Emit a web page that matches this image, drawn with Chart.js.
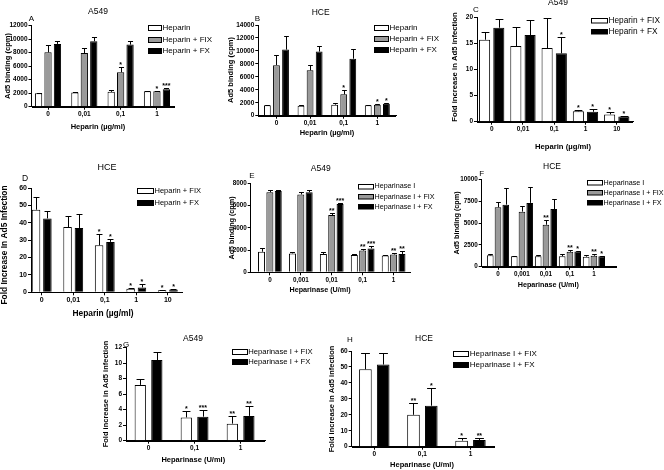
<!DOCTYPE html>
<html>
<head>
<meta charset="utf-8">
<script src="https://cdn.jsdelivr.net/npm/chart.js@4.4.0/dist/chart.umd.min.js"></script>
<style>
  body { margin: 0; background: #fff; }
  #wrap { position: relative; width: 664px; height: 470px; overflow: hidden; }
  #wrap canvas { position: absolute; left: 0; top: 0; }
</style>
</head>
<body>
<div id="wrap"></div>
<script>
// categories
const heparinDoses = ['0', '0,01', '0,1', '1'];
const heparinDoses5 = ['0', '0,01', '0,1', '1', '10'];
const hepIDoses = ['0', '0,001', '0,01', '0,1', '1'];
const hepIDoses3 = ['0', '0,1', '1'];

// A - A549, Ad5 binding (cpm)
const aHep = [2000, 2100, 2200, 2300];
const aHepErr = [2100, 2150, 2450, 2400];
const aFix = [8050, 7950, 5100, 2300];
const aFixErr = [9200, 8700, 5900, 2400];
const aFx = [9300, 9700, 9200, 2600];
const aFxErr = [9700, 10400, 9800, 2700];
const aFixStars = ['', '', '*', '*'];
const aFxStars = ['', '', '', '***'];

// B - HCE, Ad5 binding (cpm)
const bHep = [1600, 1550, 1700, 1600];
const bHepErr = [1650, 1600, 1900, 1700];
const bFix = [7800, 7000, 3300, 1700];
const bFixErr = [9300, 7900, 3900, 1800];
const bFx = [10200, 9900, 8800, 1850];
const bFxErr = [12300, 10800, 10300, 2000];
const bFixStars = ['', '', '*', '*'];
const bFxStars = ['', '', '', '*'];

// C - A549, fold increase
const cFix = [15.7, 14.5, 14.1, 2.0, 1.4];
const cFixErr = [17.1, 18.1, 19.8, 2.2, 1.8];
const cFx = [18.0, 16.6, 13.1, 1.9, 1.0];
const cFxErr = [19.7, 19.5, 16.2, 2.5, 1.05];
const cFixStars = ['', '', '', '*', '*'];
const cFxStars = ['', '', '*', '*', '*'];

// D - HCE, fold increase
const dFix = [47.5, 37.5, 27, 2, 1.2];
const dFixErr = [55, 44, 33.5, 2.5, 1.5];
const dFx = [42.5, 37, 29, 2.8, 1.6];
const dFxErr = [47, 45, 30.5, 4.5, 1.9];
const dFixStars = ['', '', '*', '*', '*'];
const dFxStars = ['', '', '*', '*', '*'];

// E - A549, heparinase, Ad5 binding
const eHep = [1850, 1700, 1650, 1550, 1500];
const eHepErr = [2150, 1850, 1800, 1650, 1550];
const eFix = [7200, 7000, 5150, 1950, 1600];
const eFixErr = [7400, 7200, 5300, 2050, 1700];
const eFx = [7300, 7200, 6150, 2150, 1650];
const eFxErr = [7400, 7400, 6250, 2400, 1900];
const eFixStars = ['', '', '**', '**', '**'];
const eFxStars = ['', '', '***', '***', '**'];

// F - HCE, heparinase, Ad5 binding
const fHep = [1300, 1200, 1200, 1200, 1150];
const fHepErr = [1500, 1250, 1350, 1400, 1350];
const fFix = [6800, 6300, 4800, 1700, 1250];
const fFixErr = [7400, 7000, 5300, 1900, 1400];
const fFx = [7100, 7300, 6600, 1750, 1200];
const fFxErr = [9000, 9100, 7800, 1850, 1250];
const fFixStars = ['', '', '**', '**', '**'];
const fFxStars = ['', '', '', '*', '*'];

// G - A549, heparinase, fold increase
const gFix = [7.2, 3.0, 2.2];
const gFixErr = [8.0, 3.8, 3.2];
const gFx = [10.4, 3.1, 3.2];
const gFxErr = [11.4, 4.0, 4.5];
const gFixStars = ['', '*', '**'];
const gFxStars = ['', '***', '**'];

// H - HCE, heparinase, fold increase
const hFix = [48.5, 20, 3.8];
const hFixErr = [59, 27.6, 5.3];
const hFx = [51.5, 25.7, 4.2];
const hFxErr = [58.5, 36.6, 5.4];
const hFixStars = ['', '**', '*'];
const hFxStars = ['', '*', '**'];

const FAMILY = "'Liberation Sans', Arial, sans-serif";
const WHITE = '#ffffff', GREY = '#9a9a9a', BLACK = '#000000';
const binding = 'Ad5 binding (cpm)';
const fold = 'Fold increase in Ad5 infection';

function s(label, values, err, stars, color) {
  return {label, values, err, stars: stars || values.map(() => ''), color};
}

const panels = [
  {labels: heparinDoses, ymax: 12000, step: 2000,
   area: [31.5, 174, 25.7, 106.7], xr: [-0.455, 3.47], cp: 0.78, bp: 0.77,
   series: [s('Heparin', aHep, aHepErr, null, WHITE), s('Heparin + FIX', aFix, aFixErr, aFixStars, GREY), s('Heparin + FX', aFx, aFxErr, aFxStars, BLACK)],
   title: ['A549', 98, 12], letter: ['A', 31.5, 18.5], ytitle: [binding, 8.3, 66], xtitle: ['Heparin (µg/ml)', 98, 126.7],
   legend: {x: 148, y: 27.5, dy: 11.5, w: 13, h: 5, size: 8}, fs: {tick: 6.5, axis: 7.5, title: 8.5}},
  {labels: heparinDoses, ymax: 14000, step: 2000,
   area: [258.3, 396.5, 25, 115.7], xr: [-0.54, 3.57], cp: 0.81, bp: 0.75,
   series: [s('Heparin', bHep, bHepErr, null, WHITE), s('Heparin + FIX', bFix, bFixErr, bFixStars, GREY), s('Heparin + FX', bFx, bFxErr, bFxStars, BLACK)],
   title: ['HCE', 320.7, 12.7], letter: ['B', 257.5, 18.3], ytitle: [binding, 231, 70], xtitle: ['Heparin (µg/ml)', 327, 133],
   legend: {x: 374, y: 27, dy: 11, w: 14, h: 5, size: 8}, fs: {tick: 6.5, axis: 7.5, title: 8.5}},
  {labels: heparinDoses5, ymax: 20, step: 5,
   area: [477, 633, 17.3, 121.7], xr: [-0.47, 4.52], cp: 0.91, bp: 0.78,
   series: [s('Heparin + FIX', cFix, cFixErr, cFixStars, WHITE), s('Heparin + FX', cFx, cFxErr, cFxStars, BLACK)],
   title: ['A549', 558, 3], letter: ['C', 476, 10], ytitle: [fold, 455, 67], xtitle: ['Heparin (µg/ml)', 563, 146.7],
   legend: {x: 591, y: 20, dy: 11.5, w: 16, h: 4.5, size: 8.3}, fs: {tick: 6.5, axis: 7.7, title: 8.5}},
  {labels: heparinDoses5, ymax: 60, step: 10,
   area: [31, 182, 188, 292.3], xr: [-0.34, 4.45], cp: 0.72, bp: 0.75,
   series: [s('Heparin + FIX', dFix, dFixErr, dFixStars, WHITE), s('Heparin + FX', dFx, dFxErr, dFxStars, BLACK)],
   title: ['HCE', 107, 168], letter: ['D', 25, 179], ytitle: ['Fold Increase In Ad5 Infection', 5, 245], xtitle: ['Heparin (µg/ml)', 103, 313.3],
   legend: {x: 137, y: 190.7, dy: 12, w: 16, h: 5, size: 7.5}, fs: {tick: 7, axis: 8.4, title: 9}},
  {labels: hepIDoses, ymax: 8000, step: 2000,
   area: [250.7, 410, 183.3, 272.3], xr: [-0.62, 4.53], cp: 0.81, bp: 0.84,
   series: [s('Heparinase I', eHep, eHepErr, null, WHITE), s('Heparinase I + FIX', eFix, eFixErr, eFixStars, GREY), s('Heparinase I + FX', eFx, eFxErr, eFxStars, BLACK)],
   title: ['A549', 320.7, 168.3], letter: ['E', 252, 176], ytitle: [binding, 231.7, 228], xtitle: ['Heparinase (U/ml)', 320, 290],
   legend: {x: 358, y: 186, dy: 10.3, w: 15, h: 4.5, size: 7.2}, fs: {tick: 6.3, axis: 7.2, title: 8.5}},
  {labels: hepIDoses, ymax: 10000, step: 2500,
   area: [481.7, 616.7, 179.3, 266.7], xr: [-0.68, 4.95], cp: 0.97, bp: 0.86,
   series: [s('Heparinase I', fHep, fHepErr, null, WHITE), s('Heparinase I + FIX', fFix, fFixErr, fFixStars, GREY), s('Heparinase I + FX', fFx, fFxErr, fFxStars, BLACK)],
   title: ['HCE', 552, 166.7], letter: ['F', 481.7, 173.3], ytitle: [binding, 456.7, 223], xtitle: ['Heparinase (U/ml)', 548.3, 285.5],
   legend: {x: 587, y: 182.7, dy: 10, w: 15, h: 4.5, size: 7.2}, fs: {tick: 6.3, axis: 7.2, title: 8.5}},
  {labels: hepIDoses3, ymax: 12, step: 2,
   area: [126, 265, 347.7, 440.7], xr: [-0.49, 2.53], cp: 0.72, bp: 0.68,
   series: [s('Heparinase I + FIX', gFix, gFixErr, gFixStars, WHITE), s('Heparinase I + FX', gFx, gFxErr, gFxStars, BLACK)],
   title: ['A549', 193, 338.3], letter: ['G', 126, 345], ytitle: [fold, 106, 394], xtitle: ['Heparinase (U/ml)', 193.3, 460],
   legend: {x: 231.7, y: 351.7, dy: 10, w: 15, h: 5, size: 7.7}, fs: {tick: 6.5, axis: 7.5, title: 8.5}},
  {labels: hepIDoses3, ymax: 60, step: 10,
   area: [351.7, 495, 351, 446.7], xr: [-0.47, 2.51], cp: 0.74, bp: 0.71,
   series: [s('Heparinase I + FIX', hFix, hFixErr, hFixStars, WHITE), s('Heparinase I + FX', hFx, hFxErr, hFxStars, BLACK)],
   title: ['HCE', 424, 338.3], letter: ['H', 350, 340], ytitle: [fold, 331.7, 399], xtitle: ['Heparinase (U/ml)', 422, 465],
   legend: {x: 453.3, y: 353.3, dy: 11, w: 15, h: 5, size: 8}, fs: {tick: 6.5, axis: 7.5, title: 8.5}}
];

function extrasFor(p) {
  return {
    id: 'extras',
    afterDraw(chart) {
      const ctx = chart.ctx, y = chart.scales.y, x = chart.scales.x;
      ctx.save();
      ctx.fillStyle = '#000';
      ctx.strokeStyle = '#000';
      ctx.lineWidth = 1;

      // x axis baseline at the y scale's zero
      const base = Math.round(y.getPixelForValue(0));
      ctx.fillRect(Math.round(y.right), base, Math.round(x.right - y.right), 1);

      // error bars and significance marks
      ctx.font = 'bold 7px ' + FAMILY;
      ctx.textAlign = 'center';
      ctx.textBaseline = 'bottom';
      chart.data.datasets.forEach((ds, di) => {
        chart.getDatasetMeta(di).data.forEach((bar, i) => {
          const top = Math.round(y.getPixelForValue(ds.err[i])) + 0.5;
          const bx = Math.round(bar.x) + 0.5;
          const half = Math.max(2, bar.width * 0.35);
          if (ds.err[i] > ds.data[i].y) {
            ctx.beginPath();
            ctx.moveTo(bx, bar.y);
            ctx.lineTo(bx, top);
            ctx.moveTo(bx - half, top);
            ctx.lineTo(bx + half, top);
            ctx.stroke();
          }
          if (ds.stars[i]) ctx.fillText(ds.stars[i], bar.x, top + 1);
        });
      });

      // panel texts
      ctx.textBaseline = 'middle';
      ctx.font = p.fs.title + 'px ' + FAMILY;
      ctx.fillText(p.title[0], p.title[1], p.title[2]);
      ctx.font = (p.fs.title - 0.5) + 'px ' + FAMILY;
      ctx.fillText(p.letter[0], p.letter[1], p.letter[2]);
      ctx.font = 'bold ' + p.fs.axis + 'px ' + FAMILY;
      ctx.fillText(p.xtitle[0], p.xtitle[1], p.xtitle[2]);
      ctx.save();
      ctx.translate(p.ytitle[1], p.ytitle[2]);
      ctx.rotate(-Math.PI / 2);
      ctx.fillText(p.ytitle[0], 0, 0);
      ctx.restore();

      // legend
      const L = p.legend;
      ctx.textAlign = 'left';
      ctx.font = L.size + 'px ' + FAMILY;
      chart.data.datasets.forEach((ds, i) => {
        const cy = L.y + i * L.dy;
        const lx = Math.round(L.x) + 0.5, ly = Math.round(cy - L.h / 2) + 0.5;
        ctx.fillStyle = ds.backgroundColor;
        ctx.fillRect(lx, ly, L.w, L.h);
        ctx.strokeRect(lx, ly, L.w, L.h);
        ctx.fillStyle = '#000';
        ctx.fillText(ds.label, L.x + L.w + 1.5, cy + 0.5);
      });
      ctx.restore();
    }
  };
}

const wrap = document.getElementById('wrap');
const Y_W = 28, X_H = 16;

panels.forEach(p => {
  const canvas = document.createElement('canvas');
  canvas.width = 664;
  canvas.height = 470;
  wrap.appendChild(canvas);
  const [left, right, top, bottom] = p.area;
  new Chart(canvas, {
    type: 'bar',
    data: {
      datasets: p.series.map(sr => ({
        label: sr.label,
        data: sr.values.map((v, i) => ({x: i, y: v})),
        err: sr.err,
        stars: sr.stars,
        backgroundColor: sr.color,
        borderColor: '#000',
        borderWidth: 1,
        categoryPercentage: p.cp,
        barPercentage: p.bp
      }))
    },
    options: {
      responsive: false,
      animation: false,
      events: [],
      layout: {padding: {left: left - Y_W, right: 664 - right, top: top, bottom: 470 - bottom - X_H}},
      plugins: {legend: {display: false}, tooltip: {enabled: false}},
      scales: {
        x: {
          type: 'linear',
          offset: false,
          min: p.xr[0],
          max: p.xr[1],
          afterBuildTicks: sc => { sc.ticks = p.labels.map((l, i) => ({value: i})); },
          afterFit: sc => { sc.height = X_H; },
          ticks: {callback: (v, i) => p.labels[i], padding: 1, font: {family: FAMILY, size: p.fs.tick, weight: 'bold'}, color: '#000'},
          grid: {display: true, offset: false, drawOnChartArea: false, tickLength: 3, color: '#000'},
          border: {display: true, color: '#000', width: 1}
        },
        y: {
          min: 0,
          max: p.ymax,
          afterFit: sc => { sc.width = Y_W; },
          ticks: {stepSize: p.step, callback: v => String(v), padding: 1, font: {family: FAMILY, size: p.fs.tick, weight: 'bold'}, color: '#000'},
          grid: {drawOnChartArea: false, tickLength: 3, color: '#000'},
          border: {color: '#000', width: 1}
        }
      }
    },
    plugins: [extrasFor(p)]
  });
});
</script>
</body>
</html>
